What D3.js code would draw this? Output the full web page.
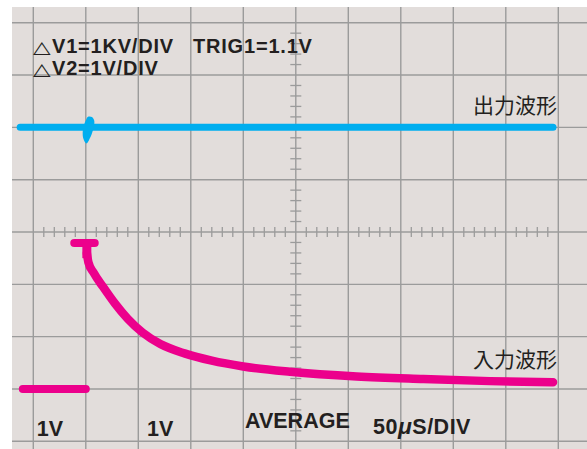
<!DOCTYPE html>
<html>
<head>
<meta charset="utf-8">
<script src="https://cdn.jsdelivr.net/npm/d3@7"></script>
<style>
  body { margin: 0; background: #fff; }
  svg { display: block; }
</style>
</head>
<body>
<figure style="margin:0"></figure>
<script>
// grid divisions (time / volts), values
const xDivs = [0, 1, 2, 3, 4, 5, 6, 7, 8, 9, 10];
const yDivs = [-4, -3, -2, -1, 0, 1, 2, 3, 4];

// output waveform (blue)
const outputWave = [[-0.25, 2], [9.9, 2]];
// outline of the small glitch on the output at the trigger point
const outputGlitch = [
  [1.004, 2.14], [1.042, 2.203], [1.118, 2.198], [1.162, 2.121], [1.137, 1.949],
  [1.08, 1.796], [1.013, 1.691], [0.956, 1.777], [0.941, 1.911], [0.966, 2.045]
];

// input waveform (magenta)
const inputBefore = [[-0.2, -3], [1.0, -3]];
const inputCap = [[0.78, -0.21], [1.17, -0.21]];
const inputStem = [[1.02, -0.21], [1.02, -0.5]];
const inputDecay = [
  [1.02, -0.4], [1.05, -0.58], [1.15, -0.78], [1.33, -1.05], [1.55, -1.36],
  [1.8, -1.66], [2.08, -1.92], [2.42, -2.14], [2.88, -2.32], [3.4, -2.46],
  [4.0, -2.57], [4.89, -2.67], [6.16, -2.76], [7.43, -2.81], [8.7, -2.85], [9.9, -2.87]
];

const headerLines = ["V1=1KV/DIV", "V2=1V/DIV"];
const trigLabel = "TRIG1=1.1V";
const footerLabels = ["1V", "1V", "AVERAGE"];
const timebase = ["50", "μ", "S/DIV"];
const traceNames = ["出力波形", "入力波形"];

const width = 587, height = 449;
const svg = d3.select("figure").append("svg")
  .attr("width", width).attr("height", height);

const x = d3.scaleLinear().domain([0, 10]).range([33.3, 558.3]);
const y = d3.scaleLinear().domain([-4, 4]).range([441.3, 22.7]);

const bg = { left: 12, top: 7, right: 587, bottom: 449 };
const gridColor = "#9b9b9b";

svg.append("rect")
  .attr("x", bg.left).attr("y", bg.top)
  .attr("width", bg.right - bg.left).attr("height", bg.bottom - bg.top)
  .attr("fill", "#e2dddb");

// main grid
svg.selectAll(".vline").data(xDivs).enter().append("line")
  .attr("class", "vline")
  .attr("x1", d => x(d)).attr("x2", d => x(d))
  .attr("y1", bg.top).attr("y2", bg.bottom)
  .attr("stroke", gridColor).attr("stroke-width", 1.4);

svg.selectAll(".hline").data(yDivs).enter().append("line")
  .attr("class", "hline")
  .attr("x1", bg.left).attr("x2", bg.right)
  .attr("y1", d => y(d)).attr("y2", d => y(d))
  .attr("stroke", gridColor).attr("stroke-width", 1.4);

// minor ticks on the centre axes
const xMinor = d3.range(0, 50).map(i => i / 5).filter((d, i) => i % 5 !== 0);
const yMinor = d3.range(-20, 20).map(i => i / 5).filter((d, i) => i % 5 !== 0);

svg.selectAll(".xtick").data(xMinor).enter().append("line")
  .attr("x1", d => x(d)).attr("x2", d => x(d))
  .attr("y1", y(0) - 5).attr("y2", y(0) + 5)
  .attr("stroke", gridColor).attr("stroke-width", 1.3);

svg.selectAll(".ytick").data(yMinor).enter().append("line")
  .attr("x1", x(5) - 5.5).attr("x2", x(5) + 5.5)
  .attr("y1", d => y(d)).attr("y2", d => y(d))
  .attr("stroke", gridColor).attr("stroke-width", 1.3);

// traces
const line = d3.line().x(d => x(d[0])).y(d => y(d[1]));
const curve = d3.line().x(d => x(d[0])).y(d => y(d[1])).curve(d3.curveMonotoneX);
const blob = d3.line().x(d => x(d[0])).y(d => y(d[1])).curve(d3.curveCatmullRomClosed.alpha(0.5));

const blue = "#00aeef";
svg.append("path").attr("d", line(outputWave))
  .attr("fill", "none").attr("stroke", blue).attr("stroke-width", 7)
  .attr("stroke-linecap", "round");
svg.append("path").attr("d", blob(outputGlitch))
  .attr("fill", blue).attr("stroke", "none");

const magenta = "#ec008c";
[inputBefore, inputCap].forEach(seg => {
  svg.append("path").attr("d", line(seg))
    .attr("fill", "none").attr("stroke", magenta).attr("stroke-width", 8)
    .attr("stroke-linecap", "round");
});
svg.append("path").attr("d", line(inputStem))
  .attr("fill", "none").attr("stroke", magenta).attr("stroke-width", 9);
svg.append("path").attr("d", curve(inputDecay))
  .attr("fill", "none").attr("stroke", magenta).attr("stroke-width", 8.5)
  .attr("stroke-linecap", "round").attr("stroke-linejoin", "round");

// texts
const textColor = "#231f20";
const boldFont = "'Liberation Sans', Arial, sans-serif";

headerLines.forEach((t, i) => {
  const baseY = 53.3 + i * 21.5;
  // the delta sign, a thin outlined triangle, stretched a bit wider
  svg.append("text")
    .attr("transform", `translate(33,${baseY}) scale(1.35,1)`)
    .attr("fill", textColor)
    .style("font-family", "'DejaVu Sans', sans-serif")
    .style("font-size", "17px")
    .text("△");
  svg.append("text")
    .attr("x", 52).attr("y", baseY)
    .attr("fill", textColor)
    .style("font-family", boldFont).style("font-size", "20px")
    .style("font-weight", "bold").style("letter-spacing", "0.8px")
    .text(t);
});

svg.append("text")
  .attr("x", 193).attr("y", 53.3)
  .attr("fill", textColor)
  .style("font-family", boldFont).style("font-size", "20px")
  .style("font-weight", "bold").style("letter-spacing", "0.8px")
  .text(trigLabel);

const footerX = [36.7, 147, 245];
const footerY = [435.7, 435.7, 427.7];
footerLabels.forEach((t, i) => {
  svg.append("text")
    .attr("x", footerX[i]).attr("y", footerY[i])
    .attr("fill", textColor)
    .style("font-family", boldFont).style("font-size", "21.5px")
    .style("font-weight", "bold")
    .text(t);
});

const tb = svg.append("text")
  .attr("x", 373).attr("y", 434)
  .attr("fill", textColor)
  .style("font-family", boldFont).style("font-size", "21.5px")
  .style("font-weight", "bold").style("letter-spacing", "0.5px");
tb.append("tspan").text(timebase[0]);
tb.append("tspan").text(timebase[1]).style("font-style", "italic").style("font-size", "23px");
tb.append("tspan").text(timebase[2]);

const nameY = [113, 367];
traceNames.forEach((t, i) => {
  svg.append("text")
    .attr("x", 557).attr("y", nameY[i])
    .attr("text-anchor", "end")
    .attr("fill", textColor)
    .style("font-family", "'Noto Sans CJK JP', sans-serif")
    .style("font-size", "21px")
    .text(t);
});
</script>
</body>
</html>
